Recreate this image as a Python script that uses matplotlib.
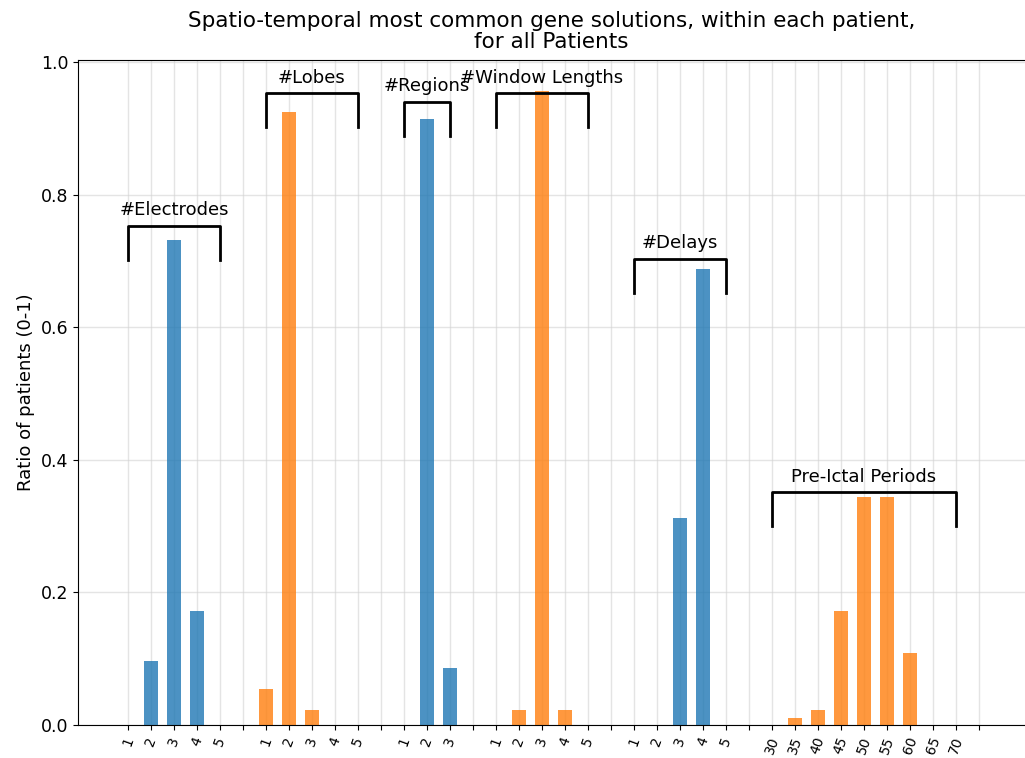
import numpy as np
import matplotlib
matplotlib.use("Agg")
import matplotlib.pyplot as plt

# Ratio of patients per gene value (93 patients)
electrode_labels = ["1", "2", "3", "4", "5"]
electrode_ratio = [0.0, 0.097, 0.731, 0.172, 0.0]

lobe_labels = ["1", "2", "3", "4", "5"]
lobe_ratio = [0.054, 0.925, 0.022, 0.0, 0.0]

region_labels = ["1", "2", "3"]
region_ratio = [0.0, 0.914, 0.086]

window_labels = ["1", "2", "3", "4", "5"]
window_ratio = [0.0, 0.022, 0.957, 0.022, 0.0]

delay_labels = ["1", "2", "3", "4", "5"]
delay_ratio = [0.0, 0.0, 0.312, 0.688, 0.0]

preictal_labels = ["30", "35", "40", "45", "50", "55", "60", "65", "70"]
preictal_ratio = [0.0, 0.011, 0.022, 0.172, 0.344, 0.344, 0.108, 0.0, 0.0]

group_names = ["#Electrodes", "#Lobes", "#Regions", "#Window Lengths",
               "#Delays", "Pre-Ictal Periods"]
group_labels = [electrode_labels, lobe_labels, region_labels,
                window_labels, delay_labels, preictal_labels]
group_ratios = [electrode_ratio, lobe_ratio, region_ratio,
                window_ratio, delay_ratio, preictal_ratio]
bracket_tops = [0.753, 0.953, 0.94, 0.953, 0.703, 0.351]

colors = ["#1f77b4", "#ff7f0e"]

fig = plt.figure(figsize=(10.25, 7.58), dpi=100)
ax = fig.add_axes([0.0761, 0.0435, 0.9239, 0.8773])

ticks = []
tick_labels = []
pos = 0
for i, (name, labels, ratios) in enumerate(zip(group_names, group_labels, group_ratios)):
    x = np.arange(pos, pos + len(labels))
    ax.bar(x, ratios, width=0.6, color=colors[i % 2], alpha=0.8, zorder=2)
    ticks.extend(x)
    tick_labels.extend(labels)

    # bracket above the group
    top = bracket_tops[i]
    ax.plot([x[0], x[0], x[-1], x[-1]], [top - 0.051, top, top, top - 0.051],
            color="black", lw=2, zorder=3)
    ax.text((x[0] + x[-1]) / 2, top + 0.01, name, ha="center", va="bottom",
            fontsize=13)

    # empty slot between groups
    ticks.append(pos + len(labels))
    tick_labels.append("")
    pos += len(labels) + 1

ax.set_xticks(ticks)
ax.set_xticklabels(tick_labels, rotation=70, fontsize=10)
ax.set_xlim(-2.17, 39)
ax.set_ylim(0, 1.003)
ax.set_yticks([0.0, 0.2, 0.4, 0.6, 0.8, 1.0])
ax.set_yticklabels(["0.0", "0.2", "0.4", "0.6", "0.8", "1.0"])
ax.tick_params(axis="y", labelsize=12.5)
ax.grid(True, color="lightgray", alpha=0.6, lw=1, zorder=0)
ax.set_axisbelow(True)
ax.spines["right"].set_visible(False)

ax.set_ylabel("Ratio of patients (0-1)", fontsize=13)
ax.set_title("Spatio-temporal most common gene solutions, within each patient,\n"
             "for all Patients", fontsize=15.5, pad=9, linespacing=1.05)

fig.savefig("out.png", dpi=100)
